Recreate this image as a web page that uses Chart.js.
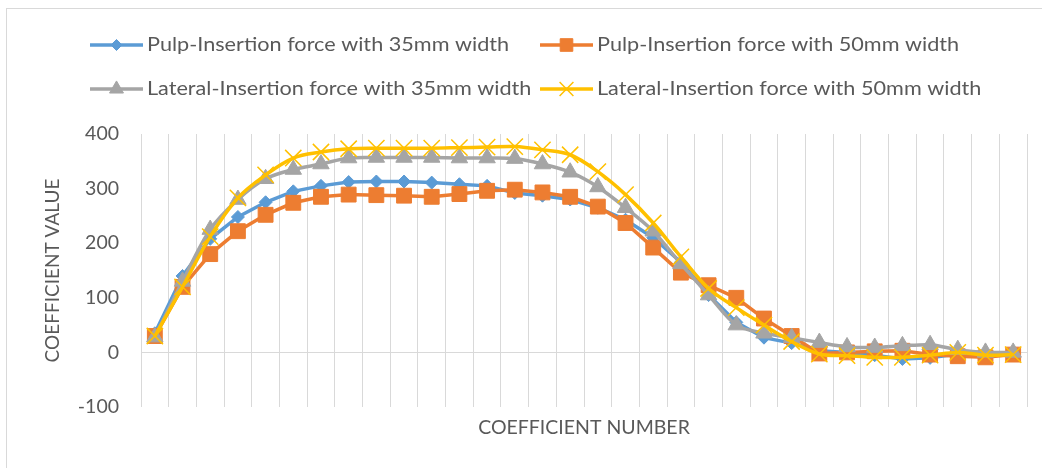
<!DOCTYPE html>
<html>
<head>
<meta charset="utf-8">
<script src="https://cdn.jsdelivr.net/npm/chart.js@4.4.1/dist/chart.umd.min.js"></script>
<style>
  html, body { margin: 0; padding: 0; background: #fff; overflow: hidden; }
  #frame { position: absolute; left: 6px; top: 8px; width: 1040px; height: 470px; border: 1px solid #D9D9D9; box-sizing: border-box; }
  #wrap { position: absolute; left: 0; top: 0; width: 1042px; height: 468px; }
</style>
</head>
<body>
<div id="frame"></div>
<div id="wrap"><canvas id="c" width="1042" height="468"></canvas></div>
<script>
// Coefficient index (1..32)
const categories = ['1','2','3','4','5','6','7','8','9','10','11','12','13','14','15','16',
                    '17','18','19','20','21','22','23','24','25','26','27','28','29','30','31','32'];

const yTicks = [-100, 0, 100, 200, 300, 400];

const pulp35 = [35, 140, 208, 248, 275, 295, 305, 312, 313, 313, 311, 308, 305, 292, 287, 280,
                265, 243, 210, 165, 105, 55, 27, 17, 3, 0, -5, -12, -10, -3, -5, -3];

const pulp50 = [30, 120, 180, 222, 252, 274, 285, 289, 288, 287, 285, 290, 296, 298, 293, 285,
                267, 237, 192, 146, 123, 100, 62, 30, -2, 0, 2, 3, -4, -7, -9, -4];

const lateral35 = [28, 130, 225, 280, 318, 335, 345, 356, 357, 357, 357, 356, 356, 355, 345, 330,
                   303, 265, 222, 162, 105, 50, 35, 27, 18, 10, 9, 12, 14, 5, 0, 0];

const lateral50 = [30, 120, 212, 283, 325, 356, 367, 373, 374, 374, 374, 375, 376, 377, 371, 362,
                   331, 289, 237, 175, 117, 82, 50, 20, -3, -6, -9, -9, -5, 0, -5, -4];

const seriesNames = [
  'Pulp-Insertion force with 35mm width',
  'Pulp-Insertion force with 50mm width',
  'Lateral-Insertion force with 35mm width',
  'Lateral-Insertion force with 50mm width'
];

const FONT = 'Lato, "Open Sans", sans-serif';
const TEXT = '#595959';

function series(label, data, color, style, radius, tension, order, borderW) {
  return {
    label, data, order,
    borderColor: color, backgroundColor: color,
    borderWidth: 3.5, tension,
    pointStyle: style, pointRadius: radius, pointHoverRadius: radius,
    pointBackgroundColor: color, pointBorderColor: color, pointBorderWidth: borderW
  };
}

// Two-row legend with a short line and marker in front of each name
const lineLegend = {
  id: 'lineLegend',
  afterDraw(chart, args, opts) {
    const ctx = chart.ctx;
    ctx.save();
    chart.data.datasets.forEach((ds, i) => {
      const x = opts.columns[i % 2];
      const y = opts.rows[Math.floor(i / 2)];
      ctx.strokeStyle = ds.borderColor;
      ctx.lineWidth = ds.borderWidth;
      ctx.lineCap = 'butt';
      ctx.beginPath();
      ctx.moveTo(x, y);
      ctx.lineTo(x + opts.lineLength, y);
      ctx.stroke();
      ctx.fillStyle = ds.pointBackgroundColor;
      ctx.strokeStyle = ds.pointBorderColor;
      ctx.lineWidth = ds.pointBorderWidth;
      Chart.helpers.drawPoint(ctx, {
        pointStyle: ds.pointStyle, radius: ds.pointRadius * 0.85, rotation: 0,
        borderWidth: ds.pointBorderWidth
      }, x + opts.lineLength / 2, y);
      // label, set slightly wide
      ctx.save();
      ctx.translate(x + opts.lineLength + opts.gap, y);
      ctx.scale(opts.stretch, 1);
      ctx.font = opts.font;
      ctx.textBaseline = 'middle';
      ctx.textAlign = 'left';
      ctx.fillStyle = opts.color;
      ctx.fillText(ds.label, 0, 0);
      ctx.restore();
    });
    ctx.restore();
  }
};

new Chart(document.getElementById('c'), {
  type: 'line',
  data: {
    labels: categories,
    datasets: [
      series(seriesNames[0], pulp35, '#5B9BD5', 'rectRot', 6.5, 0, 4, 1),
      series(seriesNames[1], pulp50, '#ED7D31', 'rect', 10.5, 0, 3, 1),
      series(seriesNames[2], lateral35, '#A5A5A5', 'triangle', 9.5, 0.3, 2, 1),
      series(seriesNames[3], lateral50, '#FFC000', 'crossRot', 11.5, 0.35, 1, 1.5)
    ]
  },
  options: {
    responsive: false,
    animation: false,
    layout: { padding: { top: 134, right: 15, left: 0, bottom: 0 } },
    plugins: {
      legend: { display: false },
      tooltip: { enabled: false },
      lineLegend: {
        font: '18.5px ' + FONT, color: TEXT, stretch: 1.17,
        columns: [90, 540], rows: [45, 89], lineLength: 53, gap: 4
      }
    },
    scales: {
      x: {
        type: 'category',
        offset: true,
        grid: { offset: true, color: '#D9D9D9', lineWidth: 1, drawTicks: false },
        border: { display: false },
        ticks: { display: false },
        title: {
          display: true, text: 'COEFFICIENT NUMBER', color: TEXT,
          font: { family: FONT, size: 19.5 }, padding: { top: 0, bottom: 29 }
        },
        afterFit(scale) { scale.height = 61; }
      },
      y: {
        min: -100, max: 400,
        afterBuildTicks(scale) { scale.ticks = yTicks.map(v => ({ value: v })); },
        grid: {
          drawTicks: false, lineWidth: 1,
          color: (c) => (c.tick && c.tick.value === 0 ? '#D9D9D9' : 'rgba(0,0,0,0)')
        },
        border: { display: false },
        ticks: { color: TEXT, font: { family: FONT, size: 19.5 }, padding: 22 },
        title: {
          display: true, text: 'COEFFICIENT VALUE', color: TEXT,
          font: { family: FONT, size: 19 }, padding: { top: 41, bottom: 0 }
        },
        afterFit(scale) { scale.width = 141; }
      }
    }
  },
  plugins: [lineLegend]
});
</script>
</body>
</html>
